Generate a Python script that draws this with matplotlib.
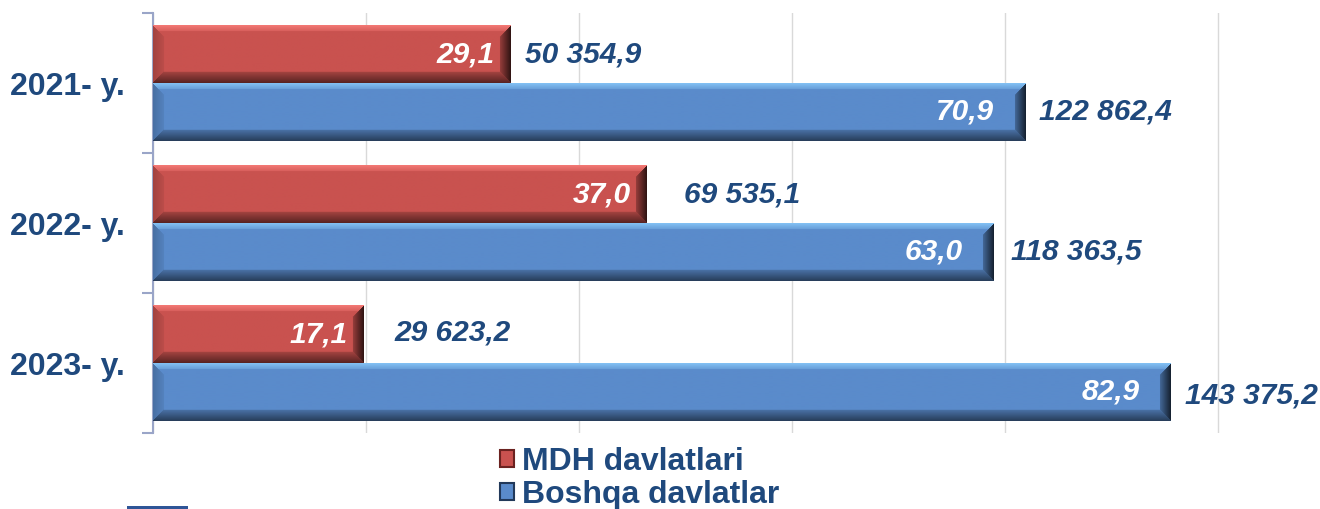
import numpy as np
import matplotlib
matplotlib.use('Agg')
import matplotlib.pyplot as plt
from matplotlib import font_manager
from matplotlib.patches import Patch, Rectangle
from matplotlib.colors import to_rgb

# Ma'lumotlar
years = ['2021- y.', '2022- y.', '2023- y.']
mdh_values = [50354.9, 69535.1, 29623.2]
boshqa_values = [122862.4, 118363.5, 143375.2]
mdh_share = ['29,1', '37,0', '17,1']
boshqa_share = ['70,9', '63,0', '82,9']
series_names = ['MDH davlatlari', 'Boshqa davlatlar']

TEXT = '#1F497D'
RED = '#C9524F'
BLUE = '#5A8BCB'

names = {f.name for f in font_manager.fontManager.ttflist}
if 'Liberation Sans Narrow' in names:
    narrow = 'Liberation Sans Narrow'
    num_size, cat_size = 24, 25
else:
    narrow = 'Liberation Sans'
    num_size, cat_size = 21.5, 23


def fmt(v):
    s = f'{v:,.1f}'.replace(',', ' ').replace('.', ',')
    return s


def bevel_image(color, w, h, b=11):
    base = np.array(to_rgb(color))
    img = np.tile(base, (h, w, 1))
    rr, cc = np.mgrid[0:h, 0:w]
    dt, db, dl, dr = rr, h - 1 - rr, cc, w - 1 - cc
    d = np.stack([dt, db, dl, dr])
    near = d.argmin(axis=0)
    dmin = d.min(axis=0)
    t = np.clip(1 - dmin / b, 0, 1)
    light = np.clip(base * 1.35 + 0.08, 0, 1)
    dark = base * 0.45
    darker = base * 0.25
    for k, target, strength in [(0, light, 0.9), (1, dark, 1.0), (2, dark, 0.35), (3, darker, 1.0)]:
        m = (near == k) & (dmin < b)
        if k == 0:
            m = (near == k) & (dmin < 6)
            tt = np.clip(1 - dmin / 6, 0, 1) * 0.6 + 0.25
        else:
            tt = t * 0.7 + 0.3
        tt = (tt * strength)[..., None]
        img[m] = (img * (1 - tt) + target * tt)[m]
    return img


fig = plt.figure(figsize=(13.2, 5.09), dpi=100)
ax = fig.add_axes([153 / 1320, 1 - 433 / 509, (1233 - 153) / 1320, 420 / 509])
xmax = 150000 * 1080 / 1065
ax.set_xlim(0, xmax)
ax.set_ylim(2.5, -0.5)

y = np.arange(len(years))
h = 0.414
px_per_x = 1065 / 150000
px_per_y = 140

# (seriya, ulush, rang, siljish, foiz matni siljishi, qiymat matni siljishlari)
for vals, shares, color, dy, pct_off, val_offs in [
        (mdh_values, mdh_share, RED, -0.207, -16, [(14, 0), (37, 0), (31, 2)]),
        (boshqa_values, boshqa_share, BLUE, 0.207, -31, [(14, 0), (18, 0), (14, -4)])]:
    for i, v in enumerate(vals):
        yc = y[i] + dy
        w = max(int(v * px_per_x), 2)
        img = bevel_image(color, w, int(h * px_per_y))
        ax.imshow(img, extent=[0, v, yc + h / 2, yc - h / 2], aspect='auto',
                  interpolation='bilinear', zorder=3)
        ax.annotate(shares[i], (v, yc), xytext=(pct_off, 0), textcoords='offset pixels',
                    ha='right', va='center', color='white', fontsize=num_size,
                    fontweight='bold', style='italic', family=[narrow, 'DejaVu Sans'], zorder=4)
        ax.annotate(fmt(v), (v, yc), xytext=val_offs[i], textcoords='offset pixels',
                    ha='left', va='center', color=TEXT, fontsize=num_size,
                    fontweight='bold', style='italic', family=[narrow, 'DejaVu Sans'],
                    annotation_clip=False, zorder=4)

ax.set_xlim(0, xmax)
ax.set_ylim(2.5, -0.5)
ax.set_xticks(np.arange(0, 150001, 30000))
ax.set_xticklabels([])
ax.tick_params(axis='x', length=0)
ax.grid(axis='x', color='#D9D9D9', linewidth=1, zorder=0)
ax.set_axisbelow(True)

ax.set_yticks(y)
ax.set_yticklabels(years, fontsize=cat_size, fontweight='bold', color=TEXT,
                   family=[narrow, 'DejaVu Sans'])
ax.tick_params(axis='y', length=0, pad=20)
ax.set_yticks([-0.5, 0.5, 1.5, 2.5], minor=True)
ax.tick_params(axis='y', which='minor', length=8, color='#9AA5C8', width=1.5)

for s in ['top', 'right', 'bottom']:
    ax.spines[s].set_visible(False)
ax.spines['left'].set_color('#9AA5C8')
ax.spines['left'].set_linewidth(1.5)

handles = [Patch(facecolor=RED, edgecolor='#6B2220', linewidth=1.5),
           Patch(facecolor=BLUE, edgecolor='#22395A', linewidth=1.5)]
fig.legend(handles, series_names, loc='upper left', bbox_to_anchor=(500 / 1320, 1 - 447 / 509),
           frameon=False, handlelength=0.45, handleheight=0.45, handletextpad=0.25,
           labelspacing=0.08, borderpad=0, borderaxespad=0,
           prop={'family': 'Liberation Sans', 'weight': 'bold', 'size': 23}, labelcolor=TEXT)

fig.patches.append(Rectangle((127 / 1320, 0), 61 / 1320, 3 / 509, transform=fig.transFigure,
                             facecolor='#2F5597', edgecolor='none'))

fig.savefig('out.png', dpi=100)
